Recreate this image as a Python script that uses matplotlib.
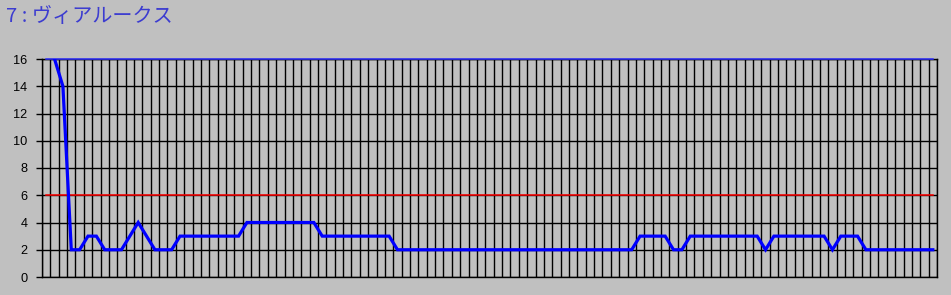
import numpy as np
import matplotlib.pyplot as plt

title = '7 : ヴィアルークス'
y_ticks = [0, 2, 4, 6, 8, 10, 12, 14, 16]

# value per race (index 0 is off the top of the chart / missing)
rank = ([np.nan, 16, 14, 2, 2, 3, 3, 2, 2, 2, 3, 4, 3, 2, 2, 2]
        + [3] * 8 + [4] * 9 + [3] * 9 + [2] * 29
        + [3] * 4 + [2] * 2 + [3] * 9 + [2] + [3] * 7 + [2] + [3] * 3
        + [2] * 9)
upper = [16] * len(rank)
limit = [6] * len(rank)
x = np.arange(len(rank))

bg = '#c0c0c0'
fig = plt.figure(figsize=(9.51, 2.95), dpi=100, facecolor=bg)
ax = fig.add_axes([42 / 951, 18 / 295, 895 / 951, 218 / 295])
ax.set_facecolor(bg)

ax.plot(x, upper, color='#3030ff', lw=1.1, clip_on=False, zorder=3)
ax.plot(x, limit, color='#ff0000', lw=1.1, zorder=3)
ax.plot(x, rank, color='#0000ff', lw=2.3, solid_joinstyle='miter', zorder=4)

ax.set_xlim(-0.5, len(rank) - 0.5)
ax.set_ylim(0, 16)
ax.set_xticks(np.arange(len(rank) + 1) - 0.5)
ax.set_xticklabels([])
ax.tick_params(axis='x', length=0)
ax.set_yticks(y_ticks)
ax.set_yticklabels([str(v) for v in y_ticks], fontsize=9.2,
                   family='Liberation Sans')
ax.tick_params(axis='y', direction='out', length=4.5, width=1.0, pad=6,
               color='black')
ax.grid(True, color='black', lw=1.0, zorder=1)
ax.set_axisbelow(True)
for s in ax.spines.values():
    s.set_color('black')
    s.set_linewidth(1.0)

fig.text(6 / 951, 1 - 16 / 295, title, color='#3c3cd0',
         fontsize=14.5, family=['Noto Sans CJK JP', 'DejaVu Sans'],
         va='center', ha='left')

fig.savefig('out.png', dpi=100, facecolor=bg)
